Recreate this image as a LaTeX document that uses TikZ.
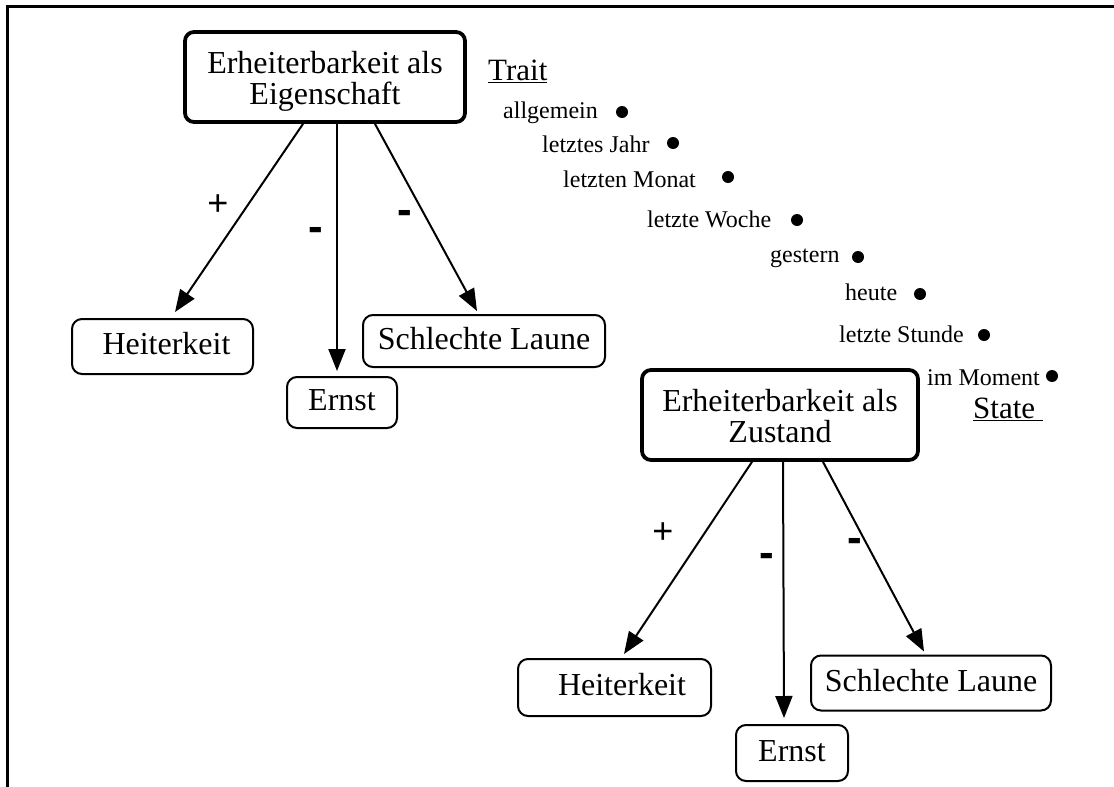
\documentclass[tikz,border=0pt]{standalone}
\usepackage{fontspec}
\setmainfont{Liberation Serif}
\newfontfamily\arialfont{Liberation Sans}
\usetikzlibrary{arrows.meta}
\begin{document}
\begin{tikzpicture}[x=1pt,y=-1pt,
  bigbox/.style={draw, line width=3.8pt, rounded corners=9pt, inner sep=0pt, minimum width=280pt, minimum height=90pt, align=center, font=\fontsize{32}{31}\selectfont},
  smallbox/.style={draw, line width=2pt, rounded corners=10pt, inner sep=0pt, font=\fontsize{32}{38}\selectfont, text height=23pt, text depth=7pt},
  conn/.style={line width=2pt, -{Triangle[length=22pt,width=17pt]}},
  plussign/.style={font=\arialfont\fontsize{36}{36}\selectfont, inner sep=0pt},
  minussign/.style={font=\arialfont\bfseries\fontsize{44}{44}\selectfont, inner sep=0pt},
  listitem/.style={anchor=base west, inner sep=0pt, font=\fontsize{24}{24}\selectfont},
  dotmark/.style={circle, fill=black, inner sep=0pt, minimum size=12pt},
  heading/.style={anchor=base west, inner sep=0pt, font=\fontsize{31}{31}\selectfont},
  frameline/.style={line width=3pt, line join=miter}
]
\useasboundingbox (0,0) rectangle (1114,787);
\fill[white] (0,0) rectangle (1114,787);
\draw[frameline] (7,787) -- (7,6) -- (1114,6);

% group 1
\node[bigbox] (b1) at (325,77) {\rule{0pt}{32pt}Erheiterbarkeit als\\Eigenschaft\rule[-8pt]{0pt}{8pt}};
\node[smallbox, minimum width=181pt, minimum height=55pt] (h1) at (162.5,346.5) {\hspace*{8pt}Heiterkeit};
\node[smallbox, minimum width=110pt, minimum height=51pt] (e1) at (342,402.5) {Ernst};
\node[smallbox, minimum width=242pt, minimum height=52pt] (s1) at (484,341) {Schlechte Laune};
\draw[conn] ([xshift=-22pt]b1.south) -- ([xshift=12.5pt,yshift=6pt]h1.north);
\draw[conn] ([xshift=12pt]b1.south) -- ([xshift=-5pt,yshift=5pt]e1.north);
\draw[conn] ([xshift=50pt]b1.south) -- ([xshift=-7pt,yshift=3pt]s1.north);
\node[plussign] (p1) at (218,205) {+};
\node[minussign] (m1) at (316,234) {-};
\node[minussign] (n1) at (405,217) {-};

% group 2
\node[bigbox, minimum width=276pt] (b2) at (780,415) {\rule{0pt}{32pt}Erheiterbarkeit als\\Zustand\rule[-8pt]{0pt}{8pt}};
\node[smallbox, minimum width=193pt, minimum height=57pt] (h2) at (614.5,687.5) {\hspace*{15pt}Heiterkeit};
\node[smallbox, minimum width=112pt, minimum height=56pt] (e2) at (792,753) {Ernst};
\node[smallbox, minimum width=240pt, minimum height=55pt] (s2) at (931,683) {Schlechte Laune};
\draw[conn] ([xshift=-28pt]b2.south) -- ([xshift=9.5pt,yshift=4pt]h2.north);
\draw[conn] ([xshift=3pt]b2.south) -- ([xshift=-8pt,yshift=6pt]e2.north);
\draw[conn] ([xshift=43pt]b2.south) -- ([xshift=-7pt,yshift=3pt]s2.north);
\node[plussign] (p2) at (663,533) {+};
\node[minussign] (m2) at (767,560) {-};
\node[minussign] (n2) at (855,545) {-};

% time scale
\node[heading] (trait) at (488,80) {\underline{Trait}};
\node[listitem] (t1) at (503,118) {allgemein};
\node[dotmark] (d1) at (622,112) {};
\node[listitem] (t2) at (542,152) {letztes Jahr};
\node[dotmark] (d2) at (673,143) {};
\node[listitem] (t3) at (563,187) {letzten Monat};
\node[dotmark] (d3) at (728,177) {};
\node[listitem] (t4) at (647,227) {letzte Woche};
\node[dotmark] (d4) at (797,220) {};
\node[listitem] (t5) at (770,262) {gestern};
\node[dotmark] (d5) at (858,257) {};
\node[listitem] (t6) at (845,300) {heute};
\node[dotmark] (d6) at (920,294) {};
\node[listitem] (t7) at (839,342) {letzte Stunde};
\node[dotmark] (d7) at (984,335) {};
\node[listitem] (t8) at (927,385) {im Moment};
\node[dotmark] (d8) at (1052,376) {};
\node[heading] (state) at (973,418) {$\underline{\hbox{State\ }}$};
\end{tikzpicture}
\end{document}
